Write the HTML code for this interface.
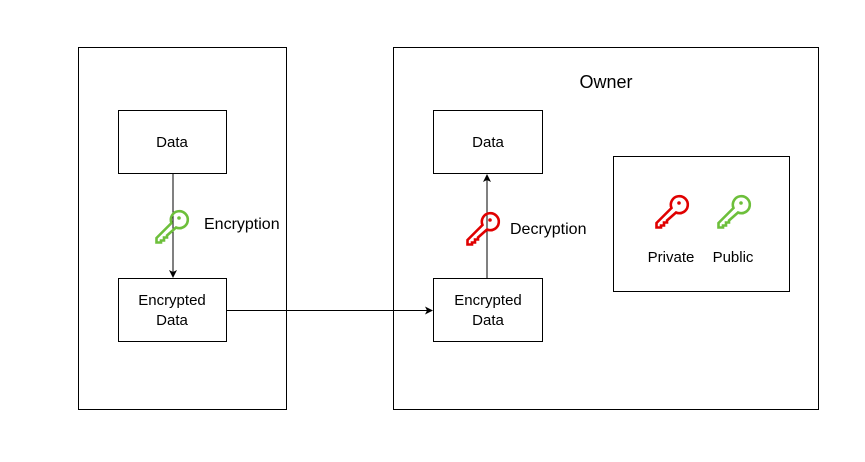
<!DOCTYPE html>
<html><head><meta charset="utf-8"><style>
body{margin:0;width:865px;height:457px;background:#fff;overflow:hidden}
svg text{font-family:"Liberation Sans",Helvetica,sans-serif;font-size:15px;fill:#000}
</style></head><body>
<svg width="865" height="457" xmlns="http://www.w3.org/2000/svg">
<defs>
<marker id="a" markerWidth="8" markerHeight="8" refX="7" refY="4" orient="auto" markerUnits="userSpaceOnUse">
<path d="M0,0 L8,4 L0,8 L2,4 Z" fill="#000"/></marker>
<g id="key">
<path fill="none" stroke-width="2.6" stroke-linejoin="miter" d="M16.5,13 A8.5,8.5 0 1 1 21,17.5 L12,25.5 L12,27.5 L9,27.5 L9,30.5 L6,30.5 L6,32.5 L1.5,32.5 L1.5,28 Z"/>
<circle cx="24" cy="8" r="1.8" stroke="none"/>
</g>
</defs>
<g fill="none" stroke="#000" stroke-width="1">
<rect x="78.5" y="47.5" width="208" height="362"/>
<rect x="393.5" y="47.5" width="425" height="362"/>
<rect x="118.5" y="110.5" width="108" height="63"/>
<rect x="118.5" y="278.5" width="108" height="63"/>
<rect x="433.5" y="110.5" width="109" height="63"/>
<rect x="433.5" y="278.5" width="109" height="63"/>
<rect x="613.5" y="156.5" width="176" height="135"/>
<line x1="173" y1="174" x2="173" y2="277" marker-end="url(#a)"/>
<line x1="487" y1="278" x2="487" y2="175" marker-end="url(#a)"/>
<line x1="227" y1="310.5" x2="432" y2="310.5" marker-end="url(#a)"/>
</g>
<g stroke="#6dbf3b" fill="#6dbf3b"><use href="#key" x="155" y="210"/></g>
<g stroke="#e00000" fill="#e00000"><use href="#key" x="466" y="212"/></g>
<g stroke="#e00000" fill="#e00000"><use href="#key" x="655" y="195"/></g>
<g stroke="#6dbf3b" fill="#6dbf3b"><use href="#key" x="717" y="195"/></g>
<g text-anchor="middle">
<text x="172" y="147">Data</text>
<text x="172" y="305">Encrypted</text>
<text x="172" y="325">Data</text>
<text x="488" y="147">Data</text>
<text x="488" y="305">Encrypted</text>
<text x="488" y="325">Data</text>
<text x="671" y="262">Private</text>
<text x="733" y="262">Public</text>
<text x="606" y="88" style="font-size:18px">Owner</text>
</g>
<text x="204" y="229" style="font-size:16px">Encryption</text>
<text x="510" y="234" style="font-size:16px">Decryption</text>
</svg>
</body></html>
